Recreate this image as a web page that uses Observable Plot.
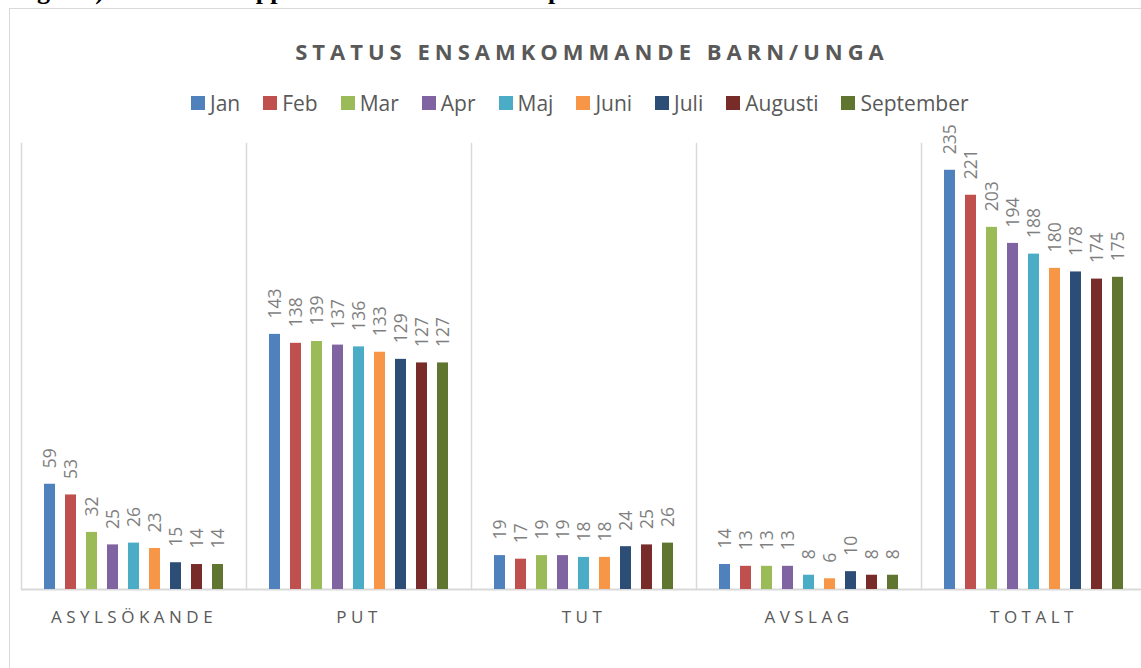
<!DOCTYPE html>
<html>
<head>
<meta charset="utf-8">
<script src="https://cdn.jsdelivr.net/npm/d3@7"></script>
<script src="https://cdn.jsdelivr.net/npm/@observablehq/plot@0.6"></script>
<style>
  html, body { margin: 0; padding: 0; background: #ffffff; }
  body { width: 1141px; height: 668px; overflow: hidden; position: relative; font-family: "Open Sans", sans-serif; }
  #fig { position: absolute; left: 14px; top: -22px; font: bold 26px/26px "Liberation Serif", serif; color: #000; white-space: nowrap; }
  #frame { position: absolute; left: 9px; top: 8px; width: 1300px; height: 800px; border: 1.5px solid #d9d9d9; box-sizing: border-box; }
  #title { position: absolute; left: 0; top: 36px; width: 1184px; text-align: center; font: 700 22px/30px "Open Sans", sans-serif; letter-spacing: 5px; color: #595959; white-space: nowrap; }
  #legend { position: absolute; left: 191px; top: 89px; display: flex; align-items: center; font: 400 21px/28px "Open Sans", sans-serif; color: #595959; white-space: nowrap; }
  #legend .item { display: flex; align-items: center; margin-right: 23px; }
  #legend .sw { width: 14px; height: 14px; margin-right: 5px; }
  #chart { position: absolute; left: 0; top: 120px; width: 1148px; }
  #chart svg { max-width: none !important; }
  #chart g[aria-label^="fx-axis"] text { font-size: 17px; letter-spacing: 4.5px; fill: #595959; font-family: "Open Sans", sans-serif; }
</style>
</head>
<body>
<div id="fig">Figur 2) Status över uppdelat efter status under perioden under 2016</div>
<div id="frame"></div>
<div id="title"></div>
<div id="legend"></div>
<div id="chart"></div>
<script>
const titleText = "STATUS ENSAMKOMMANDE BARN/UNGA";
const categories = ["ASYLSÖKANDE", "PUT", "TUT", "AVSLAG", "TOTALT"];
const months = ["Jan", "Feb", "Mar", "Apr", "Maj", "Juni", "Juli", "Augusti", "September"];
const monthColors = ["#4F81BD", "#C0504D", "#9BBB59", "#8064A2", "#4BACC6", "#F79646", "#2C4D75", "#772C2A", "#5F7530"];

const asylsokande = [59, 53, 32, 25, 26, 23, 15, 14, 14];
const put         = [143, 138, 139, 137, 136, 133, 129, 127, 127];
const tut         = [19, 17, 19, 19, 18, 18, 24, 25, 26];
const avslag      = [14, 13, 13, 13, 8, 6, 10, 8, 8];
const totalt      = [235, 221, 203, 194, 188, 180, 178, 174, 175];

const seriesByCategory = [asylsokande, put, tut, avslag, totalt];
const data = [];
categories.forEach((cat, ci) => {
  months.forEach((m, mi) => {
    data.push({category: cat, month: m, value: seriesByCategory[ci][mi]});
  });
});

document.getElementById("title").textContent = titleText;

const legend = document.getElementById("legend");
months.forEach((m, i) => {
  const item = document.createElement("div");
  item.className = "item";
  const sw = document.createElement("span");
  sw.className = "sw";
  sw.style.background = monthColors[i];
  const lab = document.createElement("span");
  lab.textContent = m;
  item.appendChild(sw);
  item.appendChild(lab);
  legend.appendChild(item);
});

const chart = Plot.plot({
  width: 1148,
  height: 548,
  marginTop: 23,
  marginBottom: 79,
  marginLeft: 19,
  marginRight: 0,
  style: {background: "transparent", fontFamily: "Open Sans, sans-serif", maxWidth: "none"},
  fx: {domain: categories, padding: 0, label: null, tickSize: 0, tickPadding: 21, axis: "bottom"},
  x: {domain: months, paddingInner: 0.46, paddingOuter: 0.93, axis: null},
  y: {domain: [0, 250], axis: null},
  color: {domain: months, range: monthColors},
  marks: [
    Plot.frame({anchor: "left", stroke: "#d9d9d9", strokeWidth: 1.5}),
    Plot.ruleY([0], {stroke: "#d9d9d9", strokeWidth: 2}),
    Plot.barY(data, {fx: "category", x: "month", y: "value", fill: "month"}),
    Plot.text(data, {
      fx: "category", x: "month", y: "value",
      text: d => String(d.value),
      rotate: -90, textAnchor: "start", dy: -16,
      fill: "#7f7f7f", fontSize: 17.5
    })
  ]
});
document.getElementById("chart").appendChild(chart);
</script>
</body>
</html>
